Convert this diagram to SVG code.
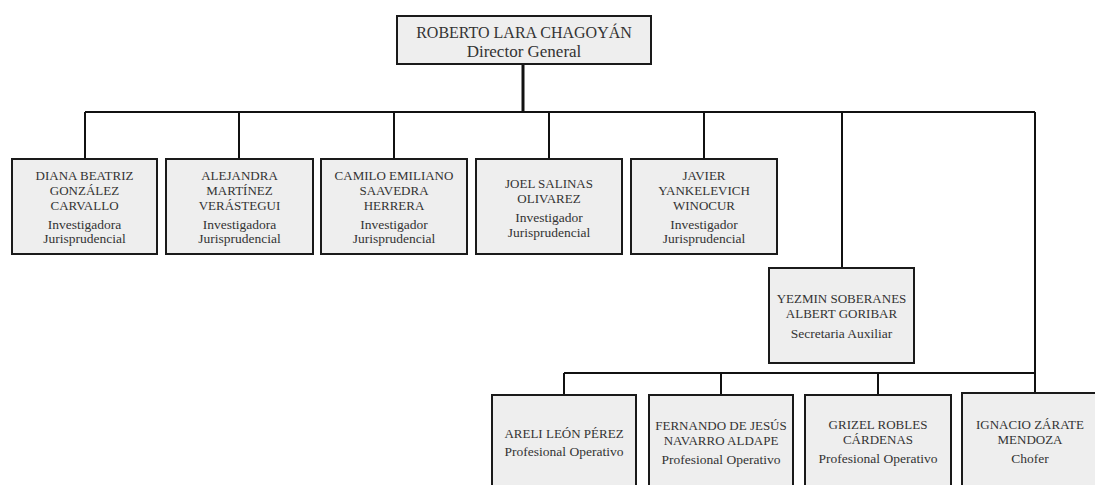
<svg xmlns="http://www.w3.org/2000/svg" width="1095" height="485" viewBox="0 0 1095 485">
<style>
.box{fill:#eeeeee;stroke:#1a1a1a;stroke-width:2}
.ln{fill:none;stroke:#111;stroke-width:2}
.nm{font-family:"Liberation Serif","Times New Roman",serif;font-size:13px;fill:#333;text-anchor:middle}
.rl{font-family:"Liberation Serif","Times New Roman",serif;font-size:13.5px;fill:#333;text-anchor:middle}
.tnm{font-family:"Liberation Serif","Times New Roman",serif;font-size:16px;fill:#333;text-anchor:middle}
.trl{font-family:"Liberation Serif","Times New Roman",serif;font-size:17px;fill:#333;text-anchor:middle}
</style>
<rect width="1095" height="485" fill="#ffffff"/>
<g id="connectors">
<path class="ln" d="M523,64 V112" style="stroke-width:3"/>
<path class="ln" d="M85,112 H1035"/>
<path class="ln" d="M85,112 V159 M239,112 V159 M394,112 V159 M549,112 V159 M704,112 V159"/>
<path class="ln" d="M842,112 V268"/>
<path class="ln" d="M1035,112 V393"/>
<path class="ln" d="M564,373 H1035"/>
<path class="ln" d="M564,373 V395 M721,373 V395 M878,373 V395"/>
</g>
<g id="director">
<rect class="box" x="397" y="16" width="254" height="48"/>
<text class="tnm" x="524" y="38">ROBERTO LARA CHAGOYÁN</text>
<text class="trl" x="524" y="57">Director General</text>
</g>
<g id="diana">
<rect class="box" x="12" y="159" width="145" height="95"/>
<text class="nm" x="84.5" y="180">DIANA BEATRIZ</text>
<text class="nm" x="84.5" y="195">GONZÁLEZ</text>
<text class="nm" x="84.5" y="210">CARVALLO</text>
<text class="rl" x="84.5" y="229">Investigadora</text>
<text class="rl" x="84.5" y="243">Jurisprudencial</text>
</g>
<g id="alejandra">
<rect class="box" x="166" y="159" width="147" height="95"/>
<text class="nm" x="239.5" y="180">ALEJANDRA</text>
<text class="nm" x="239.5" y="195">MARTÍNEZ</text>
<text class="nm" x="239.5" y="210">VERÁSTEGUI</text>
<text class="rl" x="239.5" y="229">Investigadora</text>
<text class="rl" x="239.5" y="243">Jurisprudencial</text>
</g>
<g id="camilo">
<rect class="box" x="321" y="159" width="146" height="95"/>
<text class="nm" x="394" y="180">CAMILO EMILIANO</text>
<text class="nm" x="394" y="195">SAAVEDRA</text>
<text class="nm" x="394" y="210">HERRERA</text>
<text class="rl" x="394" y="229">Investigador</text>
<text class="rl" x="394" y="243">Jurisprudencial</text>
</g>
<g id="joel">
<rect class="box" x="476" y="159" width="146" height="95"/>
<text class="nm" x="549" y="188">JOEL SALINAS</text>
<text class="nm" x="549" y="203">OLIVAREZ</text>
<text class="rl" x="549" y="222">Investigador</text>
<text class="rl" x="549" y="237">Jurisprudencial</text>
</g>
<g id="javier">
<rect class="box" x="631" y="159" width="146" height="95"/>
<text class="nm" x="704" y="180">JAVIER</text>
<text class="nm" x="704" y="195">YANKELEVICH</text>
<text class="nm" x="704" y="210">WINOCUR</text>
<text class="rl" x="704" y="229">Investigador</text>
<text class="rl" x="704" y="243">Jurisprudencial</text>
</g>
<g id="yezmin">
<rect class="box" x="769" y="268" width="145" height="95"/>
<text class="nm" x="841.5" y="303">YEZMIN SOBERANES</text>
<text class="nm" x="841.5" y="318">ALBERT GORIBAR</text>
<text class="rl" x="841.5" y="338">Secretaria Auxiliar</text>
</g>
<g id="areli">
<rect class="box" x="492" y="395" width="144" height="100"/>
<text class="nm" x="564" y="438">ARELI LEÓN PÉREZ</text>
<text class="rl" x="564" y="456">Profesional Operativo</text>
</g>
<g id="fernando">
<rect class="box" x="649" y="395" width="144" height="100"/>
<text class="nm" x="721" y="430">FERNANDO DE JESÚS</text>
<text class="nm" x="721" y="445">NAVARRO ALDAPE</text>
<text class="rl" x="721" y="464">Profesional Operativo</text>
</g>
<g id="grizel">
<rect class="box" x="805" y="395" width="146" height="100"/>
<text class="nm" x="878" y="429">GRIZEL ROBLES</text>
<text class="nm" x="878" y="444">CÁRDENAS</text>
<text class="rl" x="878" y="463">Profesional Operativo</text>
</g>
<g id="ignacio">
<rect class="box" x="962" y="393" width="145" height="102"/>
<text class="nm" x="1030" y="429">IGNACIO ZÁRATE</text>
<text class="nm" x="1030" y="444">MENDOZA</text>
<text class="rl" x="1030" y="463">Chofer</text>
</g>
</svg>
